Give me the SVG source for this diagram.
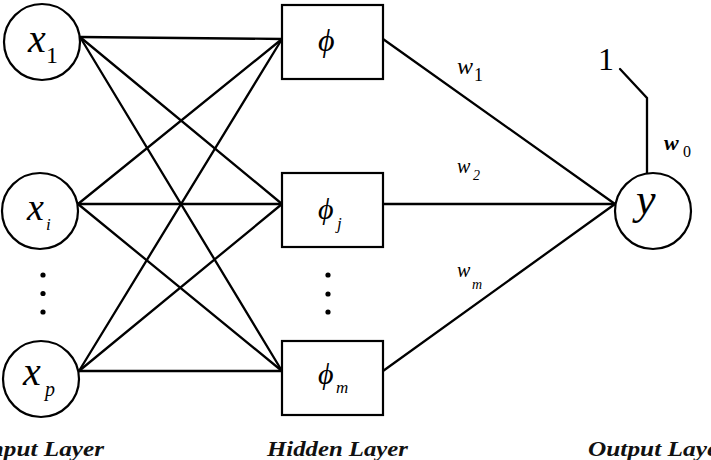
<svg xmlns="http://www.w3.org/2000/svg" width="711" height="460" viewBox="0 0 711 460">
<style>
.node{fill:#fff;stroke:#000;stroke-width:2.2}
.edge{stroke:#000;stroke-width:2.3;fill:none;stroke-linecap:round}
.m{font-family:"Liberation Serif","Times New Roman",serif;font-style:italic;fill:#000}
.n{font-family:"Liberation Serif","Times New Roman",serif;fill:#000}
.lab{font-family:"Liberation Serif","Times New Roman",serif;font-style:italic;font-weight:bold;font-size:22px;fill:#111}
.dot{fill:#000}
</style>
<rect width="711" height="460" fill="#fff"/>
<g id="connectors">
<line class="edge" x1="80" y1="37" x2="282" y2="39"/>
<line class="edge" x1="80" y1="37" x2="282" y2="204"/>
<line class="edge" x1="80" y1="37" x2="282" y2="371"/>
<line class="edge" x1="78" y1="204" x2="282" y2="39"/>
<line class="edge" x1="78" y1="204" x2="282" y2="204"/>
<line class="edge" x1="78" y1="204" x2="282" y2="371"/>
<line class="edge" x1="79" y1="371" x2="282" y2="39"/>
<line class="edge" x1="79" y1="371" x2="282" y2="204"/>
<line class="edge" x1="79" y1="371" x2="282" y2="371"/>
<line class="edge" x1="383" y1="39" x2="615" y2="204"/>
<line class="edge" x1="383" y1="204" x2="615" y2="204"/>
<line class="edge" x1="383" y1="371" x2="615" y2="204"/>
<polyline class="edge" points="620,69 647,98 647,173"/>
</g>
<g id="x1">
<circle class="node" cx="42" cy="42" r="38"/>
<text class="m" x="28" y="52" font-size="40">x</text>
<text class="n" x="46" y="63" font-size="24">1</text>
</g>
<g id="xi">
<circle class="node" cx="40" cy="211" r="38"/>
<text class="m" x="27" y="220" font-size="38">x</text>
<text class="m" x="46" y="230" font-size="17">i</text>
</g>
<g id="xp">
<circle class="node" cx="41" cy="379" r="38"/>
<text class="m" x="23" y="385" font-size="40">x</text>
<text class="m" x="45" y="396" font-size="20">p</text>
</g>
<g id="input-dots">
<circle class="dot" cx="43" cy="275" r="2.6"/>
<circle class="dot" cx="43" cy="293.5" r="2.6"/>
<circle class="dot" cx="43" cy="312" r="2.6"/>
</g>
<g id="phi1">
<rect class="node" x="282" y="5" width="101" height="74" stroke-width="2.5"/>
<text class="m" x="318" y="51" font-size="32">ϕ</text>
</g>
<g id="phij">
<rect class="node" x="282" y="173" width="101" height="74" stroke-width="2.5"/>
<text class="m" x="318" y="219" font-size="30">ϕ</text>
<text class="m" x="337" y="229" font-size="17">j</text>
</g>
<g id="phim">
<rect class="node" x="282" y="341" width="101" height="74" stroke-width="2.5"/>
<text class="m" x="318" y="384" font-size="30">ϕ</text>
<text class="m" x="336" y="393" font-size="17">m</text>
</g>
<g id="hidden-dots">
<circle class="dot" cx="328" cy="275" r="2.6"/>
<circle class="dot" cx="328" cy="294" r="2.6"/>
<circle class="dot" cx="328" cy="312" r="2.6"/>
</g>
<g id="y">
<circle class="node" cx="653" cy="211" r="38"/>
<text class="m" x="636" y="214" font-size="44">y</text>
</g>
<g id="weights">
<text class="m" x="457" y="74" font-size="24">w</text>
<text class="n" x="474" y="81" font-size="18">1</text>
<text class="m" x="457" y="173" font-size="20">w</text>
<text class="m" x="473" y="180" font-size="14">2</text>
<text class="m" x="457" y="277" font-size="20">w</text>
<text class="m" x="472" y="289" font-size="14">m</text>
<text class="m" x="664" y="150" font-size="22" font-weight="bold">w</text>
<text class="n" x="683" y="157" font-size="16">0</text>
<text class="n" x="598" y="70" font-size="32">1</text>
</g>
<g id="labels">
<text class="lab" x="-20" y="456" textLength="124" lengthAdjust="spacingAndGlyphs">Input Layer</text>
<text class="lab" x="267" y="456" textLength="141" lengthAdjust="spacingAndGlyphs">Hidden Layer</text>
<text class="lab" x="588" y="456" textLength="140" lengthAdjust="spacingAndGlyphs">Output Layer</text>
</g>
</svg>
